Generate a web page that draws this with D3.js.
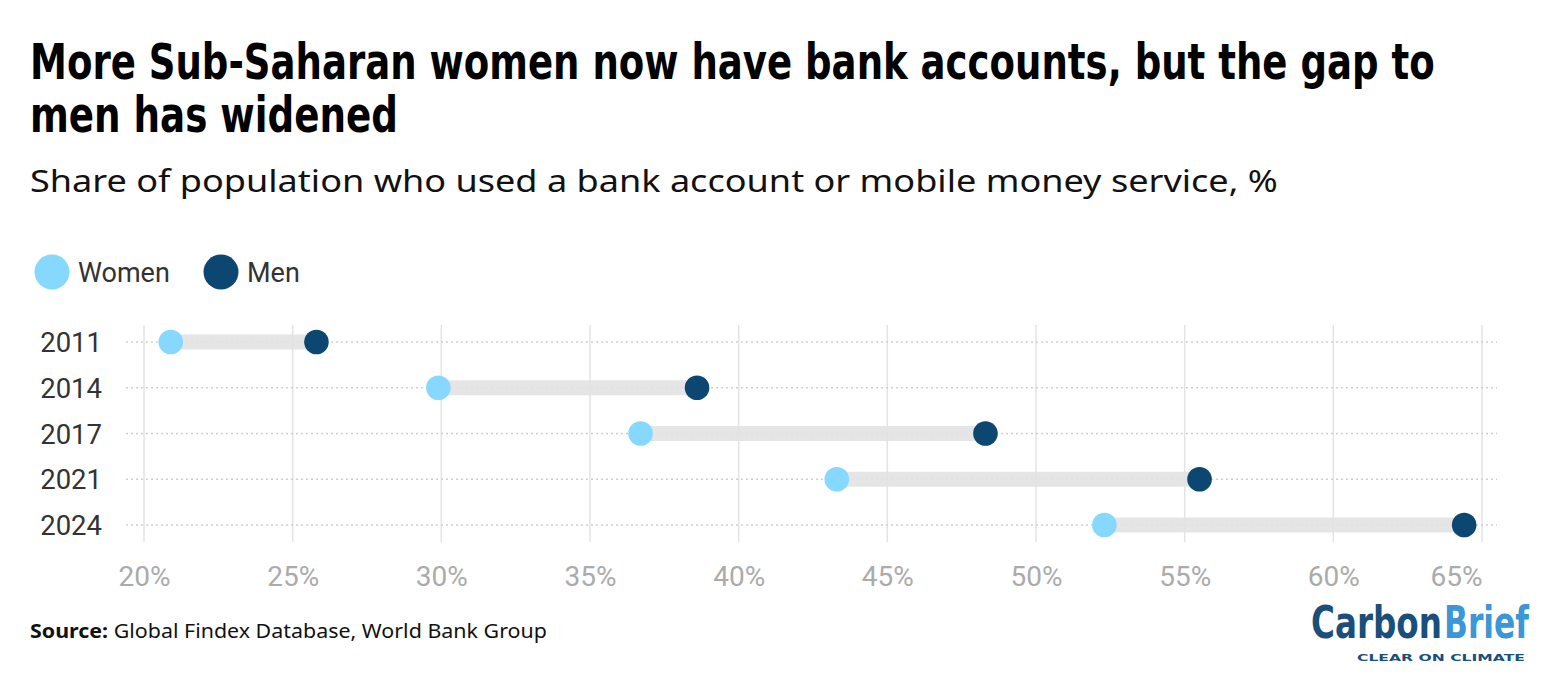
<!DOCTYPE html>
<html>
<head>
<meta charset="utf-8">
<script src="https://cdn.jsdelivr.net/npm/d3@7"></script>
<style>
  html, body { margin: 0; padding: 0; background: #fff; }
  svg { display: block; }
</style>
</head>
<body>
<svg id="chart" width="1560" height="698"></svg>
<script>
// ---- Data ----
const years = ["2011", "2014", "2017", "2021", "2024"];
const women = [20.9, 29.9, 36.7, 43.3, 52.3];
const men   = [25.8, 38.6, 48.3, 55.5, 64.4];
const xTicks = [20, 25, 30, 35, 40, 45, 50, 55, 60, 65];
const seriesNames = ["Women", "Men"];

const titleLines = ["More Sub-Saharan women now have bank accounts, but the gap to", "men has widened"];
const subtitle = "Share of population who used a bank account or mobile money service, %";
const sourceLabel = "Source:";
const sourceText = " Global Findex Database, World Bank Group";

// ---- Style ----
const colWomen = "#86d8fe";
const colMen = "#0c4771";
const svg = d3.select("#chart");

// place a text at (x, y) and squeeze it horizontally to width w
function placeFit(sel, x, y, w) {
  const w0 = sel.node().getComputedTextLength();
  const sx = w0 > 0 ? w / w0 : 1;
  sel.attr("x", 0).attr("y", 0)
     .attr("transform", `translate(${x},${y}) scale(${sx},1)`);
}

// Title
const condensed = "'Liberation Sans Narrow', 'DejaVu Sans Condensed', 'Roboto', sans-serif";
const tl = [[79, 1405], [132, 368]];
titleLines.forEach((t, i) => {
  svg.append("text")
    .attr("font-family", condensed).attr("font-weight", 700)
    .attr("font-size", 50).attr("fill", "#000").text(t)
    .call(placeFit, 30, tl[i][0], tl[i][1]);
});

// Subtitle
svg.append("text")
  .attr("font-family", "'Noto Sans', 'Open Sans', sans-serif")
  .attr("font-size", 31).attr("fill", "#111").text(subtitle)
  .call(placeFit, 30, 192, 1248);

// Legend
const legend = svg.append("g");
const legX = [52, 221];
seriesNames.forEach((n, i) => {
  legend.append("circle").attr("cx", legX[i]).attr("cy", 272).attr("r", 17.5)
    .attr("fill", i === 0 ? colWomen : colMen);
  legend.append("text").attr("x", legX[i] + 26).attr("y", 282)
    .attr("font-family", "Roboto, sans-serif").attr("font-size", 27)
    .attr("fill", "#333").text(n);
});

// Scales
const x = d3.scaleLinear().domain([20, 65]).range([144, 1482]);
const y = d3.scalePoint().domain(years).range([342, 525]);

const plot = svg.append("g");

// vertical gridlines
plot.selectAll("line.vgrid").data(xTicks).join("line")
  .attr("class", "vgrid")
  .attr("x1", d => x(d)).attr("x2", d => x(d))
  .attr("y1", 325).attr("y2", 542)
  .attr("stroke", "#e3e3e3").attr("stroke-width", 1.5);

// dotted row lines
plot.selectAll("line.row").data(years).join("line")
  .attr("class", "row")
  .attr("x1", 126).attr("x2", 1497)
  .attr("y1", d => y(d)).attr("y2", d => y(d))
  .attr("stroke", "#cfcfcf").attr("stroke-width", 1.5)
  .attr("stroke-dasharray", "2,3");

// connecting bars
plot.selectAll("line.bar").data(years).join("line")
  .attr("class", "bar")
  .attr("x1", (d, i) => x(women[i])).attr("x2", (d, i) => x(men[i]))
  .attr("y1", d => y(d)).attr("y2", d => y(d))
  .attr("stroke", "#e2e2e2").attr("stroke-opacity", 0.9).attr("stroke-width", 15);

// dots
plot.selectAll("circle.w").data(years).join("circle")
  .attr("class", "w")
  .attr("cx", (d, i) => x(women[i])).attr("cy", d => y(d)).attr("r", 12.3)
  .attr("fill", colWomen);
plot.selectAll("circle.m").data(years).join("circle")
  .attr("class", "m")
  .attr("cx", (d, i) => x(men[i])).attr("cy", d => y(d)).attr("r", 12.3)
  .attr("fill", colMen);

// y labels
plot.selectAll("text.year").data(years).join("text")
  .attr("class", "year")
  .attr("x", 102).attr("y", d => y(d) + 10)
  .attr("text-anchor", "end")
  .attr("font-family", "Roboto, sans-serif").attr("font-size", 27.5)
  .attr("fill", "#333").text(d => d);

// x axis
const xAxis = d3.axisBottom(x).tickValues(xTicks).tickFormat(d => d + "%").tickSize(0).tickPadding(0);
const gx = svg.append("g").attr("transform", "translate(0,586)").call(xAxis);
gx.select(".domain").remove();
gx.selectAll("text")
  .attr("dy", 0)
  .attr("font-family", "Roboto, sans-serif").attr("font-size", 28)
  .attr("fill", "#ababab");
gx.selectAll(".tick").filter(d => d === xTicks[xTicks.length - 1])
  .select("text").attr("text-anchor", "end");

// Source
const src = svg.append("text")
  .attr("font-family", "'Noto Sans', 'Open Sans', sans-serif")
  .attr("font-size", 20).attr("fill", "#111");
src.append("tspan").attr("font-weight", 700).text(sourceLabel);
src.append("tspan").text(sourceText);
src.call(placeFit, 30, 638, 517);

// Logo
const logo = svg.append("g");
logo.append("text")
  .attr("font-family", condensed).attr("font-weight", 700)
  .attr("font-size", 45).attr("fill", "#1a4e7c").text("Carbon")
  .call(placeFit, 1311, 638, 131);
logo.append("text")
  .attr("font-family", condensed).attr("font-weight", 700)
  .attr("font-size", 45).attr("fill", "#3b97d6").text("Brief")
  .call(placeFit, 1444, 638, 85);
logo.append("text")
  .attr("font-family", "'DejaVu Sans', sans-serif").attr("font-weight", 700)
  .attr("font-size", 8.5).attr("fill", "#1a4e7c").text("CLEAR ON CLIMATE")
  .call(placeFit, 1357, 661, 168);
</script>
</body>
</html>
